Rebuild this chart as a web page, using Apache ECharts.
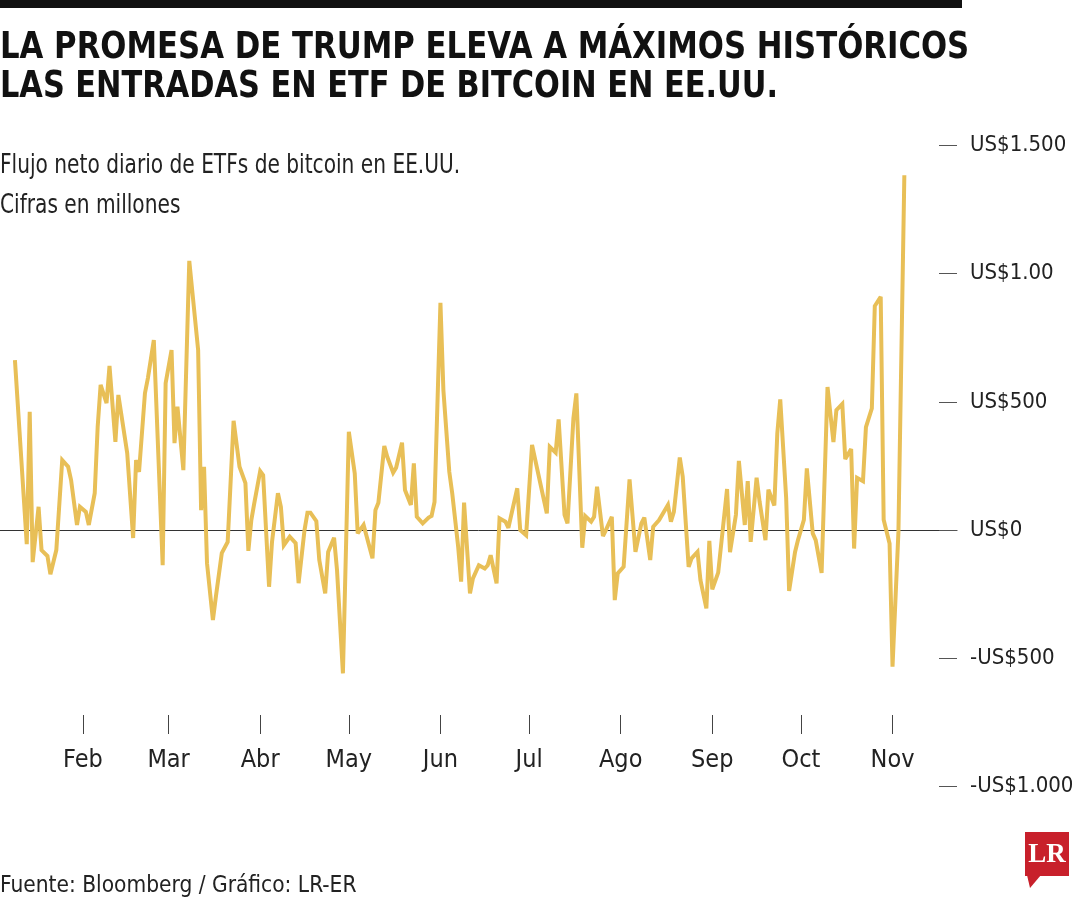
<!DOCTYPE html>
<html>
<head>
<meta charset="utf-8">
<script src="https://cdn.jsdelivr.net/npm/echarts@6/dist/echarts.min.js"></script>
<style>
html,body{margin:0;padding:0;background:#fff;}
#chart{width:1080px;height:900px;}
</style>
</head>
<body>
<div id="chart"></div>
<script>
// ---- data (daily net flow, US$ millions) ----
const dates = [
'2024-01-09','2024-01-13','2024-01-14','2024-01-15','2024-01-17','2024-01-18','2024-01-20','2024-01-21','2024-01-23','2024-01-25',
'2024-01-27','2024-01-28','2024-01-30','2024-01-31','2024-02-02','2024-02-03','2024-02-05','2024-02-06','2024-02-07','2024-02-09',
'2024-02-10','2024-02-12','2024-02-13','2024-02-16','2024-02-18','2024-02-19','2024-02-20','2024-02-22','2024-02-23','2024-02-25',
'2024-02-28','2024-02-29','2024-03-02','2024-03-03','2024-03-04','2024-03-06','2024-03-08','2024-03-11','2024-03-12','2024-03-13',
'2024-03-14','2024-03-16','2024-03-17','2024-03-19','2024-03-21','2024-03-23','2024-03-25','2024-03-27','2024-03-28','2024-03-29',
'2024-03-30','2024-04-01','2024-04-02','2024-04-04','2024-04-05','2024-04-07','2024-04-08','2024-04-09','2024-04-11','2024-04-13',
'2024-04-14','2024-04-16','2024-04-17','2024-04-18','2024-04-20','2024-04-21','2024-04-23','2024-04-24','2024-04-26','2024-04-27',
'2024-04-29','2024-05-01','2024-05-03','2024-05-04','2024-05-06','2024-05-09','2024-05-10','2024-05-11','2024-05-13','2024-05-14',
'2024-05-16','2024-05-17','2024-05-19','2024-05-20','2024-05-22','2024-05-23','2024-05-24','2024-05-26','2024-05-28','2024-05-29',
'2024-05-30','2024-06-01','2024-06-02','2024-06-04','2024-06-05','2024-06-07','2024-06-08','2024-06-09','2024-06-11','2024-06-12',
'2024-06-14','2024-06-16','2024-06-17','2024-06-18','2024-06-20','2024-06-21','2024-06-23','2024-06-24','2024-06-27','2024-06-28',
'2024-06-30','2024-07-02','2024-07-07','2024-07-08','2024-07-10','2024-07-11','2024-07-13','2024-07-14','2024-07-16','2024-07-17',
'2024-07-19','2024-07-20','2024-07-22','2024-07-23','2024-07-24','2024-07-26','2024-07-27','2024-07-29','2024-07-30','2024-07-31',
'2024-08-02','2024-08-04','2024-08-06','2024-08-08','2024-08-09','2024-08-11','2024-08-12','2024-08-14','2024-08-15','2024-08-17',
'2024-08-18','2024-08-19','2024-08-21','2024-08-22','2024-08-24','2024-08-25','2024-08-27','2024-08-28','2024-08-30','2024-08-31',
'2024-09-01','2024-09-03','2024-09-06','2024-09-07','2024-09-09','2024-09-10','2024-09-12','2024-09-13','2024-09-14','2024-09-16',
'2024-09-17','2024-09-19','2024-09-20','2024-09-22','2024-09-23','2024-09-24','2024-09-26','2024-09-27','2024-09-29','2024-09-30',
'2024-10-02','2024-10-03','2024-10-05','2024-10-06','2024-10-08','2024-10-10','2024-10-12','2024-10-13','2024-10-15','2024-10-16',
'2024-10-18','2024-10-19','2024-10-20','2024-10-22','2024-10-23','2024-10-25','2024-10-26','2024-10-28','2024-10-29','2024-10-31',
'2024-11-01','2024-11-03','2024-11-05'
];
const flows = [
663,-55,461,-125,91,-78,-101,-172,-78,273,
247,195,20,91,71,20,144,403,566,495,
640,344,527,300,-31,273,227,534,593,741,
-137,573,702,339,481,234,1050,702,78,247,
-129,-351,-260,-90,-46,426,247,183,-81,39,
105,230,214,-221,-46,144,91,-59,-26,-51,
-207,0,68,68,35,-117,-247,-85,-30,-156,
-559,383,221,-13,20,-110,78,107,328,286,
224,243,341,156,98,260,52,26,49,55,
110,886,546,227,143,-65,-201,107,-247,-188,
-137,-150,-137,-98,-208,46,33,9,163,0,
-20,332,65,325,302,432,59,26,436,533,
-69,55,33,52,169,-23,0,52,-273,-169,
-143,198,-85,26,49,-117,13,39,59,98,
33,71,283,208,-143,-110,-85,-195,-305,-42,
-231,-166,160,-86,60,270,20,191,-46,204,
112,-39,158,96,376,510,126,-237,-86,-39,
40,241,-13,-39,-167,558,343,468,492,277,
316,-72,204,191,402,475,874,910,40,-52,
-533,-6,1384
];
const monthTicks = ['2024-02-01','2024-03-01','2024-04-01','2024-05-01','2024-06-01','2024-07-01','2024-08-01','2024-09-01','2024-10-01','2024-11-01'];
const monthLabels = ['Feb','Mar','Abr','May','Jun','Jul','Ago','Sep','Oct','Nov'];
const yTickValues = [1500, 1000, 500, 0, -500, -1000];
const yTickLabels = ['US$1.500', 'US$1.00', 'US$500', 'US$0', '-US$500', '-US$1.000'];

// ---- helpers ----
function toTs(s){ const p = s.split('-').map(Number); return new Date(p[0], p[1]-1, p[2]).getTime(); }
const tickTs = monthTicks.map(toTs);
const xMin = new Date(2024, 0, 3, 22, 39).getTime();
const xMax = new Date(2024, 10, 22, 19, 40).getTime();
const FONT = '"Liberation Sans Narrow", "DejaVu Sans Condensed", "Arial Narrow", sans-serif';
const LINE_COLOR = '#E8BF57';

const chart = echarts.init(document.getElementById('chart'), null, {renderer: 'canvas'});
const option = {
  animation: false,
  backgroundColor: '#ffffff',
  grid: { left: 0, right: 123, top: 145.5, bottom: 113.5, containLabel: false, outerBoundsMode: 'none' },
  xAxis: [
    {
      type: 'value', min: xMin, max: xMax, position: 'bottom', offset: -71.5,
      axisLine: { show: false, onZero: false },
      axisTick: { show: true, length: 19, lineStyle: { color: '#444', width: 1 }, customValues: tickTs },
      axisLabel: {
        show: true, margin: 33, customValues: tickTs,
        fontFamily: FONT, fontSize: 25, color: '#222',
        formatter: function (v) {
          const i = tickTs.indexOf(v);
          return i >= 0 ? monthLabels[i] : '';
        }
      },
      splitLine: { show: false }
    },
    {
      type: 'value', min: xMin, max: xMax, position: 'bottom',
      axisLine: { show: true, onZero: true, lineStyle: { color: '#333', width: 1 } },
      axisTick: { show: false }, axisLabel: { show: false }, splitLine: { show: false }
    }
  ],
  yAxis: {
    type: 'value', position: 'right', min: -1000, max: 1500, interval: 500,
    axisLine: { show: false },
    axisTick: { show: true, inside: true, length: 18, lineStyle: { color: '#555', width: 1 } },
    splitLine: { show: false },
    axisLabel: {
      margin: 13, fontFamily: FONT, fontSize: 22, color: '#222', align: 'left',
      formatter: function (v) {
        const i = yTickValues.indexOf(v);
        return i >= 0 ? yTickLabels[i] : '';
      }
    }
  },
  series: [{
    type: 'line',
    xAxisIndex: 0,
    data: dates.map((d, i) => [toTs(d), flows[i]]),
    showSymbol: false,
    symbol: 'none',
    lineStyle: { color: LINE_COLOR, width: 4, join: 'miter', miterLimit: 3 },
    z: 5
  }],
  graphic: [
    { type: 'rect', shape: { x: 0, y: 0, width: 962, height: 8 }, style: { fill: '#111' } },
    { type: 'text', x: 0, y: 48, scaleX: 0.924, style: { x: 0, y: 0, text: 'LA PROMESA DE TRUMP ELEVA A MÁXIMOS HISTÓRICOS', font: 'bold 37px ' + FONT, fill: '#111', textVerticalAlign: 'middle' } },
    { type: 'text', x: 0, y: 87, scaleX: 0.913, style: { x: 0, y: 0, text: 'LAS ENTRADAS EN ETF DE BITCOIN EN EE.UU.', font: 'bold 37px ' + FONT, fill: '#111', textVerticalAlign: 'middle' } },
    { type: 'text', x: 0, y: 166, scaleX: 0.83, style: { x: 0, y: 0, text: 'Flujo neto diario de ETFs de bitcoin en EE.UU.', font: '27px ' + FONT, fill: '#222', textVerticalAlign: 'middle' } },
    { type: 'text', x: 0, y: 206, scaleX: 0.83, style: { x: 0, y: 0, text: 'Cifras en millones', font: '27px ' + FONT, fill: '#222', textVerticalAlign: 'middle' } },
    { type: 'text', x: 0, y: 886, style: { x: 0, y: 0, text: 'Fuente: Bloomberg / Gráfico: LR-ER', font: '22.5px ' + FONT, fill: '#222', textVerticalAlign: 'middle' } },
    { type: 'rect', shape: { x: 1025, y: 832, width: 44, height: 44 }, style: { fill: '#C8202B' } },
    { type: 'polygon', shape: { points: [[1027, 875], [1041, 875], [1030, 888]] }, style: { fill: '#C8202B' } },
    { type: 'text', style: { x: 1047, y: 855, text: 'LR', font: 'bold 27px "Liberation Serif", "DejaVu Serif", serif', fill: '#fff', textAlign: 'center', textVerticalAlign: 'middle' } }
  ]
};
chart.setOption(option);
</script>
</body>
</html>
